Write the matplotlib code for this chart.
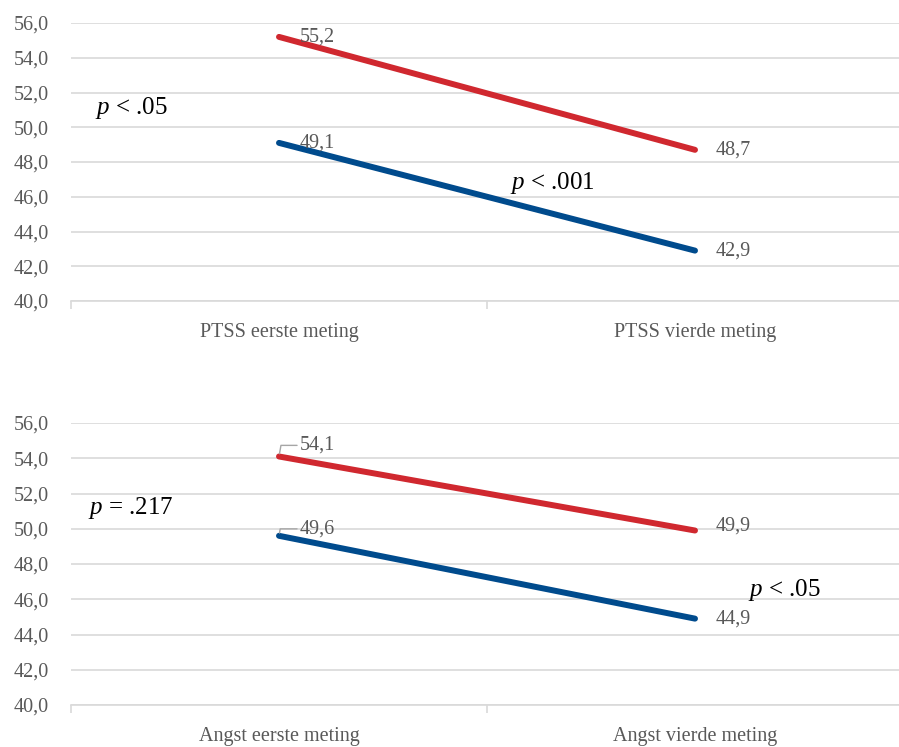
import matplotlib
matplotlib.use("Agg")
import matplotlib.pyplot as plt
from matplotlib.ticker import FixedLocator, FuncFormatter

plt.rcParams['font.family'] = ['Liberation Serif', 'DejaVu Serif']
plt.rcParams['mathtext.fontset'] = 'custom'
plt.rcParams['mathtext.it'] = 'Liberation Serif:italic'
plt.rcParams['mathtext.rm'] = 'Liberation Serif'

# Data
ptss_categories = ["PTSS eerste meting", "PTSS vierde meting"]
ptss_red = [55.2, 48.7]
ptss_blue = [49.1, 42.9]
angst_categories = ["Angst eerste meting", "Angst vierde meting"]
angst_red = [54.1, 49.9]
angst_blue = [49.6, 44.9]
yticks = [40, 42, 44, 46, 48, 50, 52, 54, 56]

RED = "#D0282F"
BLUE = "#004B8D"
GRID = "#D9D9D9"
TXT = "#595959"
FS = 14.5
PFS = 18

W, H = 899, 747
fig = plt.figure(figsize=(W / 100, H / 100), dpi=100)

def fmt(v):
    return f"{v:.1f}".replace(".", ",")

def make_axes(top_px, bot_px):
    return fig.add_axes([71 / W, 1 - bot_px / H, 832 / W, (bot_px - top_px) / H])

def style(ax, cats):
    ax.set_xlim(-0.5, 1.5)
    ax.set_ylim(40, 56)
    ax.yaxis.set_major_locator(FixedLocator(yticks))
    ax.yaxis.set_major_formatter(FuncFormatter(lambda v, p: fmt(v)))
    ax.grid(axis='y', color=GRID, linewidth=1.2)
    ax.set_axisbelow(True)
    for s in ['top', 'right', 'left']:
        ax.spines[s].set_visible(False)
    ax.spines['bottom'].set_color(GRID)
    ax.spines['bottom'].set_linewidth(1.2)
    ax.set_xticks([0, 1])
    ax.set_xticklabels(cats)
    ax.set_xticks([-0.5, 0.5, 1.5], minor=True)
    ax.tick_params(axis='x', which='major', length=0, pad=16, labelsize=FS, labelcolor=TXT)
    ax.tick_params(axis='x', which='minor', length=6, color=GRID, width=1.2)
    ax.tick_params(axis='y', length=0, pad=16, labelsize=FS, labelcolor=TXT)

def label(ax, x, y, dy=0, leader=False):
    kw = dict(textcoords='offset points', fontsize=FS, color=TXT, va='center', ha='left')
    if leader:
        ax.annotate(fmt(y), xy=(x, y), xytext=(15, dy),
                    arrowprops=dict(arrowstyle='-', color='#A6A6A6', lw=1,
                                    shrinkA=0, shrinkB=2,
                                    connectionstyle='angle,angleA=0,angleB=80,rad=0'), **kw)
    else:
        ax.annotate(fmt(y), xy=(x, y), xytext=(15, dy), **kw)

# Top panel
ax1 = make_axes(23, 301)
style(ax1, ptss_categories)
ax1.plot([0, 1], ptss_red, color=RED, lw=4.3, solid_capstyle='round')
ax1.plot([0, 1], ptss_blue, color=BLUE, lw=4.3, solid_capstyle='round')
label(ax1, 0, ptss_red[0])
label(ax1, 0, ptss_blue[0])
label(ax1, 1, ptss_red[1])
label(ax1, 1, ptss_blue[1])
ax1.text(-0.442, 51.1, "$p$ < .05", fontsize=PFS, color='black', va='center', ha='left')
ax1.text(0.555, 46.8, "$p$ < .001", fontsize=PFS, color='black', va='center', ha='left')

# Bottom panel
ax2 = make_axes(423, 705)
style(ax2, angst_categories)
ax2.plot([0, 1], angst_red, color=RED, lw=4.3, solid_capstyle='round')
ax2.plot([0, 1], angst_blue, color=BLUE, lw=4.3, solid_capstyle='round')
label(ax2, 0, angst_red[0], dy=8, leader=True)
label(ax2, 0, angst_blue[0], dy=5, leader=True)
label(ax2, 1, angst_red[1], dy=3)
label(ax2, 1, angst_blue[1])
ax2.text(-0.459, 51.2, "$p$ = .217", fontsize=PFS, color='black', va='center', ha='left')
ax2.text(1.127, 46.5, "$p$ < .05", fontsize=PFS, color='black', va='center', ha='left')

fig.savefig("out.png", dpi=100)
